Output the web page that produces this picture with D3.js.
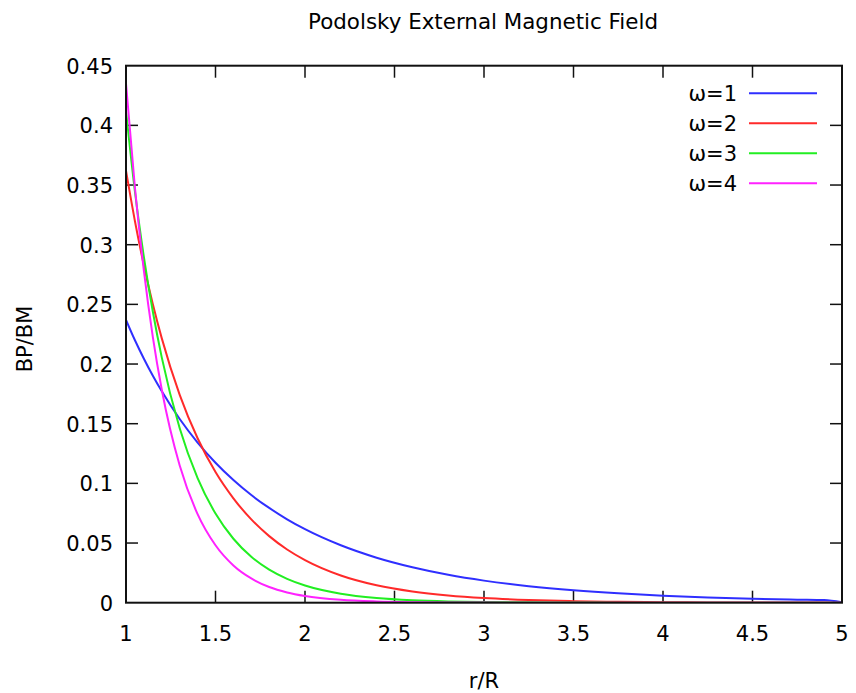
<!DOCTYPE html>
<html>
<head>
<meta charset="utf-8">
<script src="https://cdn.jsdelivr.net/npm/d3@7"></script>
<style>
  html, body { margin: 0; padding: 0; background: #fff; }
  svg { display: block; }
  text { font-family: "DejaVu Sans", Verdana, sans-serif; fill: #000; }
</style>
</head>
<body>
<svg id="chart" width="856" height="693"></svg>
<script>
// ---- data ----
const title = "Podolsky External Magnetic Field";
const xLabel = "r/R";
const yLabel = "BP/BM";
const xTicks = [1, 1.5, 2, 2.5, 3, 3.5, 4, 4.5, 5];
const yTicks = [0, 0.05, 0.1, 0.15, 0.2, 0.25, 0.3, 0.35, 0.4, 0.45];
const seriesNames = ["ω=1", "ω=2", "ω=3", "ω=4"];
const seriesColors = ["#2f2fff", "#ff2a2a", "#22ee22", "#ff22ff"];

const rValues = [1, 1.05, 1.1, 1.15, 1.2, 1.3, 1.4, 1.5, 1.6, 1.7, 1.8, 1.9, 2.0,
                 2.2, 2.4, 2.6, 2.8, 3.0, 3.25, 3.5, 3.75, 4.0, 4.25, 4.5, 4.75, 4.9, 5.0];
const omega1 = [0.237, 0.2199, 0.2044, 0.1901, 0.1771, 0.1539, 0.1342, 0.1173, 0.1028, 0.0902, 0.0794, 0.0699, 0.0616,
                0.0481, 0.0377, 0.0297, 0.0234, 0.0185, 0.01385, 0.0104, 0.00782, 0.0059, 0.00446, 0.00337, 0.00256, 0.00217, 0.0003];
const omega2 = [0.362, 0.3197, 0.2826, 0.2501, 0.2215, 0.1742, 0.1378, 0.1095, 0.0875, 0.0698, 0.0558, 0.0446, 0.0357,
                0.0228, 0.0146, 0.0094, 0.00605, 0.00388, 0.00225, 0.0013, 0.00076, 0.00045, 0.00027, 0.00016, 0.0001, 0.00007, 0.00005];
const omega3 = [0.412, 0.3444, 0.2896, 0.2438, 0.2054, 0.1462, 0.1044, 0.0747, 0.0536, 0.0385, 0.0277, 0.0200, 0.0144,
                0.00755, 0.00397, 0.00209, 0.00111, 0.00059, 0.00028, 0.00012, 0.00006, 0.00003, 0.00001, 0, 0, 0, 0];
const omega4 = [0.435, 0.3477, 0.2781, 0.2226, 0.1784, 0.1149, 0.0742, 0.0481, 0.0312, 0.0203, 0.0132, 0.00862, 0.00563,
                0.00241, 0.00104, 0.00045, 0.0002, 0.00009, 0.00003, 0.00001, 0, 0, 0, 0, 0, 0, 0];
const seriesValues = [omega1, omega2, omega3, omega4];

// ---- layout ----
const svg = d3.select("#chart");
const pLeft = 126, pRight = 842, pTop = 65.7, pBottom = 602.7;
const x = d3.scaleLinear().domain([1, 5]).range([pLeft, pRight]);
const y = d3.scaleLinear().domain([0, 0.45]).range([pBottom, pTop]);
const tickLen = 12;

// ticks (inward, mirrored)
const tickG = svg.append("g").attr("stroke", "#111").attr("stroke-width", 1.5);
xTicks.forEach(t => {
  if (t === 1 || t === 5) return;
  tickG.append("line").attr("x1", x(t)).attr("x2", x(t)).attr("y1", pBottom).attr("y2", pBottom - tickLen);
  tickG.append("line").attr("x1", x(t)).attr("x2", x(t)).attr("y1", pTop).attr("y2", pTop + tickLen);
});
yTicks.forEach(t => {
  if (t === 0 || t === 0.45) return;
  tickG.append("line").attr("x1", pLeft).attr("x2", pLeft + tickLen).attr("y1", y(t)).attr("y2", y(t));
  tickG.append("line").attr("x1", pRight).attr("x2", pRight - tickLen).attr("y1", y(t)).attr("y2", y(t));
});

// tick labels
const fs = 21;
svg.append("g").selectAll("text").data(xTicks).join("text")
  .attr("x", d => x(d)).attr("y", 641)
  .attr("text-anchor", "middle").attr("font-size", fs)
  .text(d => d3.format("")(d));
svg.append("g").selectAll("text").data(yTicks).join("text")
  .attr("x", 113).attr("y", d => y(d) + 8)
  .attr("text-anchor", "end").attr("font-size", fs)
  .text(d => d3.format("")(d));

// clip
svg.append("clipPath").attr("id", "plotclip").append("rect")
  .attr("x", pLeft).attr("y", pTop).attr("width", pRight - pLeft).attr("height", pBottom - pTop);

// curves
const line = d3.line().x(d => x(d[0])).y(d => y(d[1])).curve(d3.curveMonotoneX);
const curveG = svg.append("g").attr("clip-path", "url(#plotclip)");
seriesValues.forEach((vals, i) => {
  const pts = rValues.map((r, k) => [r, vals[k]]);
  curveG.append("path").attr("d", line(pts))
    .attr("fill", "none").attr("stroke", seriesColors[i]).attr("stroke-width", 2);
});

// frame
svg.append("rect").attr("x", pLeft).attr("y", pTop).attr("width", pRight - pLeft).attr("height", pBottom - pTop)
  .attr("fill", "none").attr("stroke", "#111").attr("stroke-width", 2);

// legend
const legY0 = 93.3, legDy = 30;
seriesNames.forEach((name, i) => {
  const ly = legY0 + i * legDy;
  svg.append("text").attr("x", 737).attr("y", ly + 7.5).attr("text-anchor", "end")
    .attr("font-size", fs).text(name);
  svg.append("line").attr("x1", 749).attr("x2", 817).attr("y1", ly).attr("y2", ly)
    .attr("stroke", seriesColors[i]).attr("stroke-width", 2);
});

// title and axis labels
svg.append("text").attr("x", 483).attr("y", 29).attr("text-anchor", "middle")
  .attr("font-size", fs).attr("textLength", 350).attr("lengthAdjust", "spacingAndGlyphs").text(title);
svg.append("text").attr("x", 484).attr("y", 688).attr("text-anchor", "middle")
  .attr("font-size", fs).text(xLabel);
svg.append("text").attr("transform", "translate(32,339) rotate(-90)").attr("text-anchor", "middle")
  .attr("font-size", fs).text(yLabel);
</script>
</body>
</html>
